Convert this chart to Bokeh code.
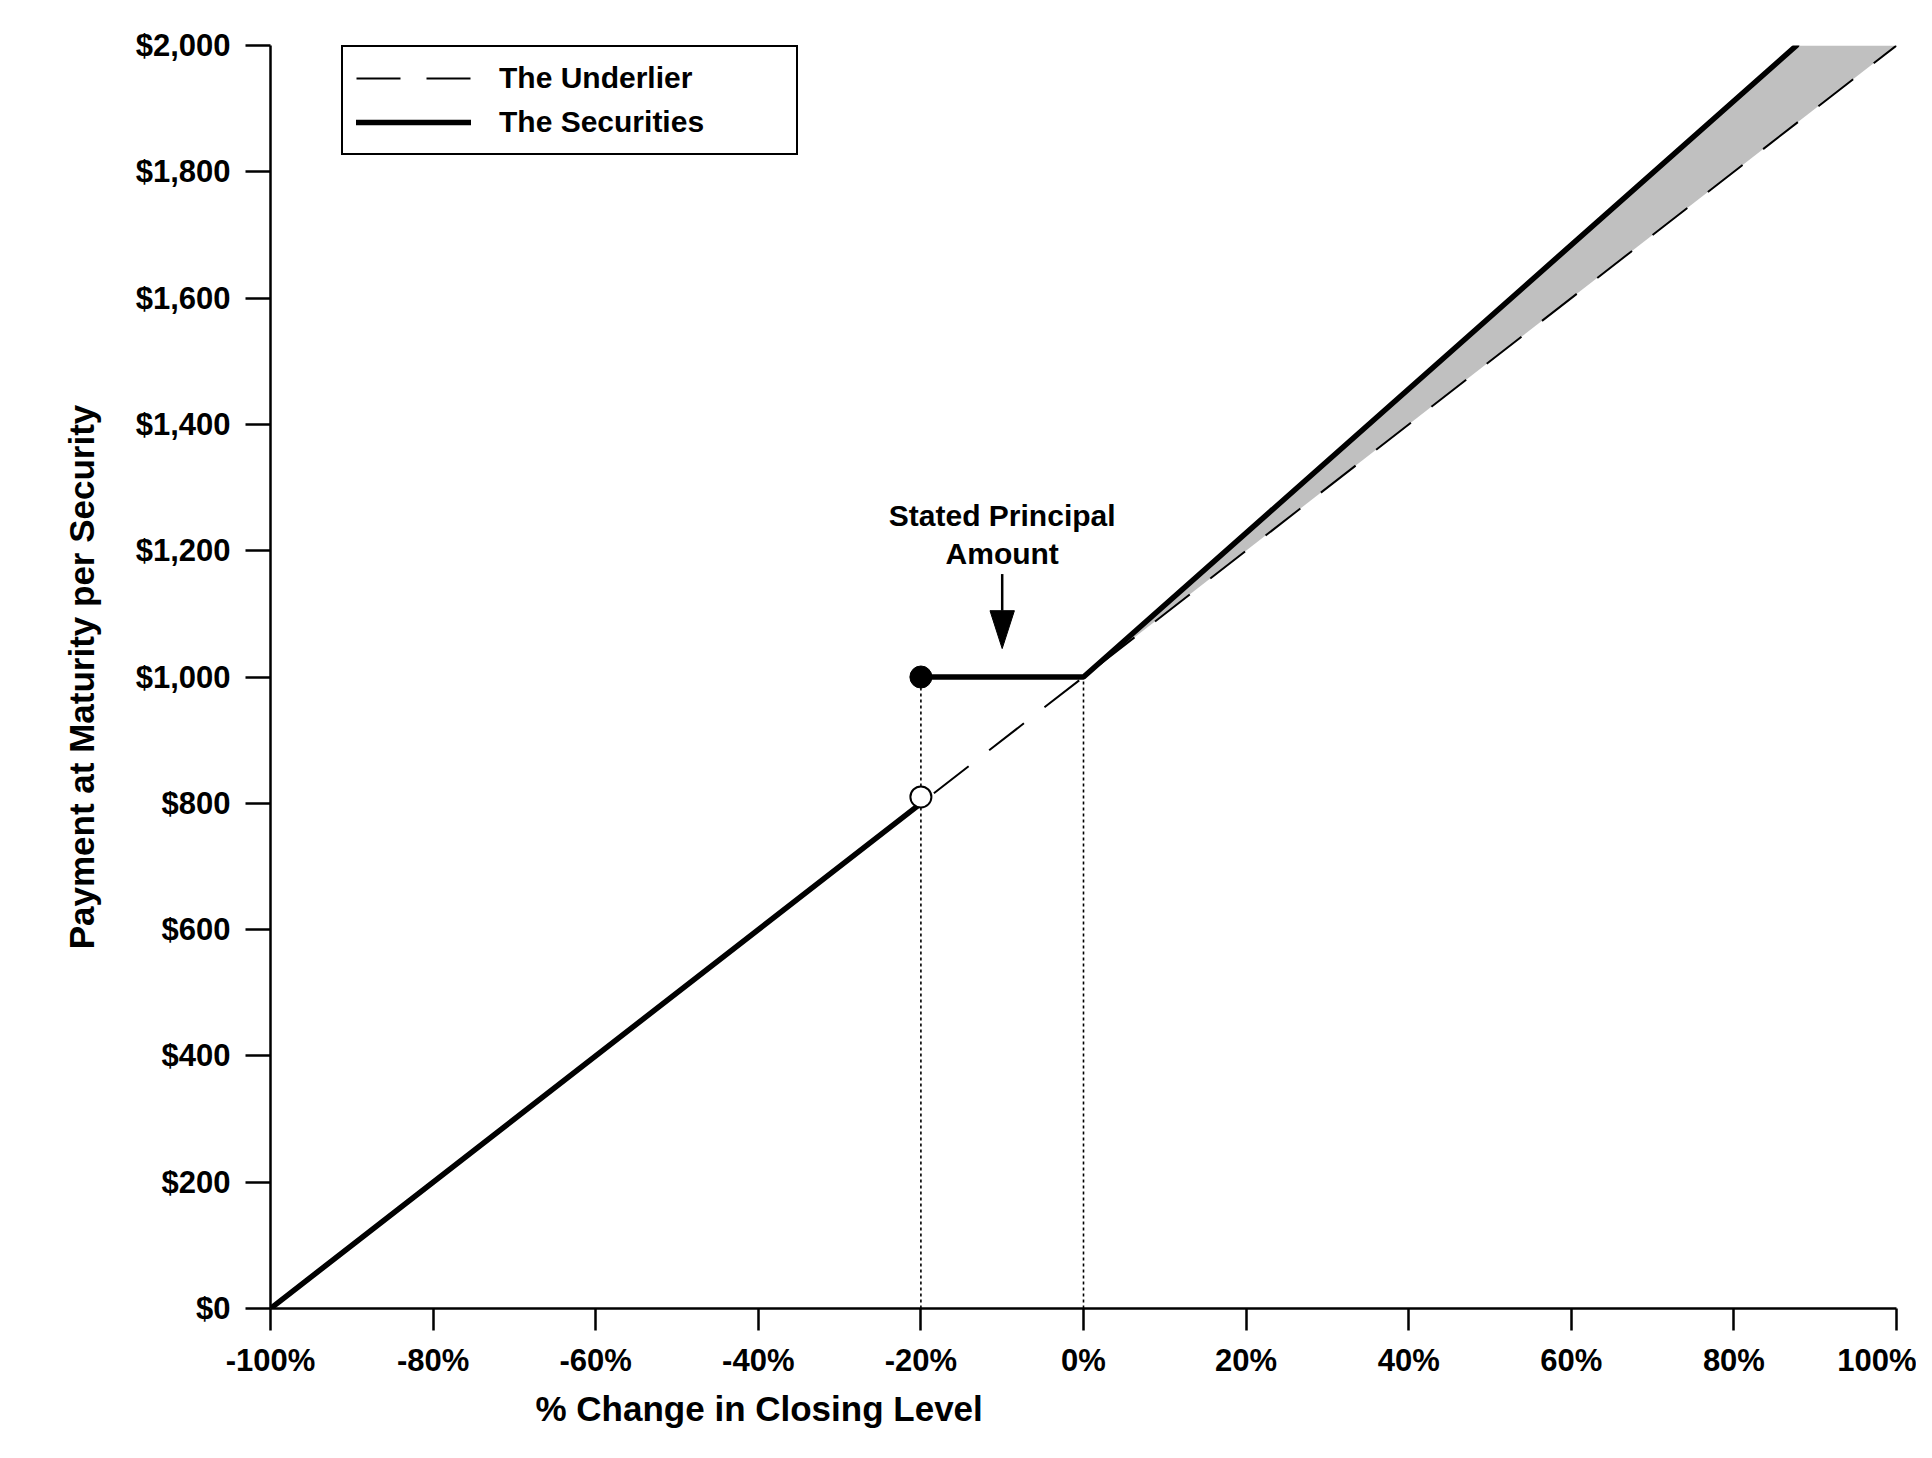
from bokeh.plotting import figure
from bokeh.models import Range1d, FixedTicker, Legend, LegendItem, Title
from bokeh.core.properties import value
from bokeh.embed import file_html
from bokeh.resources import INLINE

# ---------------- data ----------------
x_ticks = [-100, -80, -60, -40, -20, 0, 20, 40, 60, 80, 100]
x_tick_labels = ["-100%", "-80%", "-60%", "-40%", "-20%", "0%", "20%", "40%", "60%", "80%", "100%"]
y_ticks = [0, 200, 400, 600, 800, 1000, 1200, 1400, 1600, 1800, 2000]
y_tick_labels = ["$0", "$200", "$400", "$600", "$800", "$1,000", "$1,200", "$1,400", "$1,600", "$1,800", "$2,000"]

# The Underlier (payment = 1000 * (1 + change))
underlier_x = [-100, 100]
underlier_y = [0, 2000]

# The Securities (three pieces, NaN separated)
securities_x = [-100, -20, float("nan"), -20, 0, 87.7]
securities_y = [0, 800, float("nan"), 1000, 1000, 2000]

# Shaded upside region between securities and underlier
shade_x = [0, 87.7, 100]
shade_y = [1000, 2000, 2000]

# Buffer / principal reference points
closed_pt_x = [-20]
closed_pt_y = [1000]
open_pt_x = [-20]
open_pt_y = [810]
guide_x = [-20, 0]
guide_top = [1000, 1000]

annot_lines = ["Stated Principal", "Amount"]
annot_x = -10
annot_y = [1256, 1196]
arrow_x = -10
arrow_top = 1163
arrow_base = 1105
arrow_tip = 1045

FONT = "Liberation Sans"

p = figure(width=1916, height=1442, output_backend="svg", toolbar_location=None,
           x_range=Range1d(-100, 100), y_range=Range1d(0, 2000),
           min_border_left=270, min_border_right=20, min_border_top=45, min_border_bottom=134,
           background_fill_color="white", border_fill_color="white")
p.outline_line_color = None
p.xgrid.visible = False
p.ygrid.visible = False

# shaded area
p.patch(shade_x, shade_y, fill_color="#c0c0c0", line_color=None)

# dotted guide lines
for gx, gt in zip(guide_x, guide_top):
    p.line([gx, gx], [0, gt], line_color="black", line_width=1.6, line_dash="3 3")

under_r = p.line(underlier_x, underlier_y, line_color="black", line_width=2, line_dash="44 26")
sec_r = p.line(securities_x, securities_y, line_color="black", line_width=5.5, line_cap="round")

p.scatter(closed_pt_x, closed_pt_y, size=22, marker="circle", fill_color="black", line_color="black")
p.scatter(open_pt_x, open_pt_y, size=21, marker="circle", fill_color="white", line_color="black", line_width=2)

# annotation arrow
p.line([arrow_x, arrow_x], [arrow_top, arrow_base], line_color="black", line_width=2.5)
p.patch([arrow_x - 1.5, arrow_x + 1.5, arrow_x], [arrow_base, arrow_base, arrow_tip],
        fill_color="black", line_color="black", line_width=1)
p.text(x=[annot_x] * len(annot_lines), y=annot_y, text=annot_lines,
       text_font=value(FONT), text_font_style="bold", text_font_size="30px",
       text_align="center", text_baseline="alphabetic", text_color="black")

# axes
for ax in (p.xaxis[0], p.yaxis[0]):
    ax.axis_line_width = 2.5
    ax.axis_line_color = "black"
    ax.major_tick_line_width = 2.5
    ax.major_tick_line_color = "black"
    ax.major_tick_in = 0
    ax.minor_tick_in = 0
    ax.minor_tick_out = 0
    ax.major_label_text_font = FONT
    ax.major_label_text_font_style = "bold"
    ax.major_label_text_font_size = "31px"
    ax.major_label_text_color = "black"

p.xaxis.ticker = FixedTicker(ticks=x_ticks)
p.xaxis.major_label_overrides = dict(zip(x_ticks, x_tick_labels))
p.xaxis.major_tick_out = 22
p.xaxis.major_label_standoff = 12

p.yaxis.ticker = FixedTicker(ticks=y_ticks)
p.yaxis.major_label_overrides = dict(zip(y_ticks, y_tick_labels))
p.yaxis.major_tick_out = 25
p.yaxis.major_label_standoff = 15
p.yaxis.axis_label = "Payment at Maturity per Security"
p.yaxis.axis_label_text_font = FONT
p.yaxis.axis_label_text_font_style = "bold"
p.yaxis.axis_label_text_font_size = "35px"
p.yaxis.axis_label_text_color = "black"
p.yaxis.axis_label_standoff = 32

xt = Title(text="% Change in Closing Level", align="left", offset=265,
           text_font=FONT, text_font_style="bold", text_font_size="35px",
           text_color="black", standoff=12)
p.add_layout(xt, "below")

legend = Legend(items=[LegendItem(label="The Underlier", renderers=[under_r]),
                       LegendItem(label="The Securities", renderers=[sec_r])],
                location=(71, 1153), border_line_color="black", border_line_width=2,
                border_line_alpha=1,
                padding=13, spacing=8, glyph_width=115, glyph_height=36,
                label_height=36, label_width=284, label_standoff=28, margin=0,
                label_text_font=FONT, label_text_font_style="bold",
                label_text_font_size="30px", label_text_color="black",
                background_fill_color="white", background_fill_alpha=1)
p.add_layout(legend)

open("out.html", "w").write(file_html(p, INLINE))
